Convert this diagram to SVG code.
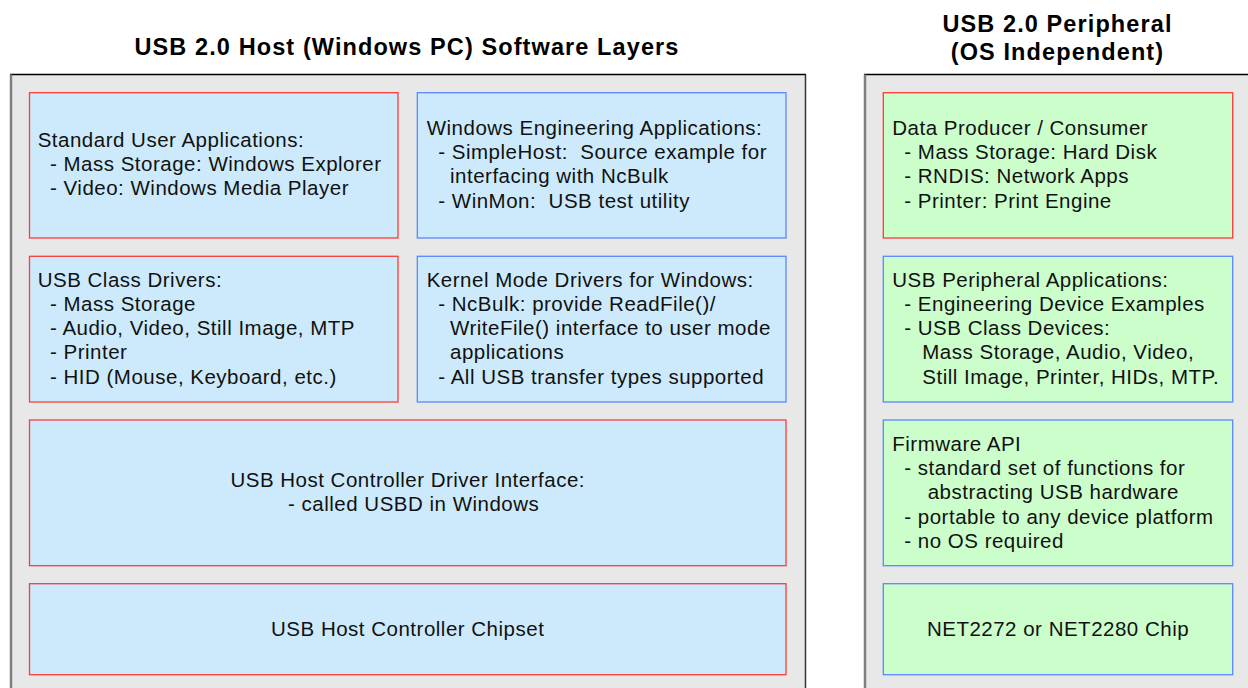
<svg xmlns="http://www.w3.org/2000/svg" width="1248" height="688" viewBox="0 0 1248 688">
<style>
.bg{fill:#ffffff}
.panel{fill:#e8e8e8;stroke:none}
.edgeTop{stroke:#000;stroke-width:1.5}
.edgeSide{stroke:#808080;stroke-width:2.5}
.edgeRight{stroke:#333;stroke-width:1.5}
.hb{fill:#cceafc}
.pb{fill:#ccfecc}
.red{stroke:#ff3a3a;stroke-width:1.3}
.blue{stroke:#5a88ff;stroke-width:1.3}
.t{font-family:"Liberation Sans",Arial,sans-serif;font-size:20.5px;letter-spacing:0.5px;fill:#111}
.c{text-anchor:middle}
.title{font-family:"Liberation Sans",Arial,sans-serif;font-size:23.5px;font-weight:bold;letter-spacing:1.1px;fill:#000;text-anchor:middle}
</style>
<rect class="bg" x="0" y="0" width="1248" height="688"/>
<g id="host-panel">
<rect class="panel" x="10" y="74.5" width="795.5" height="620"/>
<line class="edgeTop" x1="10" y1="74.5" x2="806" y2="74.5"/>
<line class="edgeSide" x1="11" y1="74.5" x2="11" y2="688"/>
<line class="edgeRight" x1="805.5" y1="74.5" x2="805.5" y2="688"/>
<text class="title" x="407" y="55">USB 2.0 Host (Windows PC) Software Layers</text>
</g>
<g id="peripheral-panel">
<rect class="panel" x="864" y="74.5" width="400" height="620"/>
<line class="edgeTop" x1="864" y1="74.5" x2="1248" y2="74.5"/>
<line class="edgeSide" x1="865" y1="74.5" x2="865" y2="688"/>
<text class="title" x="1057.5" y="31.7">USB 2.0 Peripheral</text>
<text class="title" x="1057.5" y="60">(OS Independent)</text>
</g>
<g id="std-user-apps">
<rect class="hb red" x="29.5" y="92.7" width="368.5" height="145.3"/>
<text class="t"><tspan x="37.7" y="147.3">Standard User Applications:</tspan><tspan x="50" y="171.3">- Mass Storage: Windows Explorer</tspan><tspan x="50" y="195.3">- Video: Windows Media Player</tspan></text>
</g>
<g id="win-eng-apps">
<rect class="hb blue" x="417.3" y="92.7" width="368.7" height="145.3"/>
<text class="t"><tspan x="426.7" y="135">Windows Engineering Applications:</tspan><tspan x="438.3" y="159.2" xml:space="preserve">- SimpleHost:  Source example for</tspan><tspan x="450" y="183.4">interfacing with NcBulk</tspan><tspan x="438.3" y="207.6" xml:space="preserve">- WinMon:  USB test utility</tspan></text>
</g>
<g id="usb-class-drivers">
<rect class="hb red" x="29.5" y="256.3" width="368.5" height="145.7"/>
<text class="t"><tspan x="37.7" y="286.7">USB Class Drivers:</tspan><tspan x="50" y="310.9">- Mass Storage</tspan><tspan x="50" y="335.1">- Audio, Video, Still Image, MTP</tspan><tspan x="50" y="359.3">- Printer</tspan><tspan x="50" y="383.5">- HID (Mouse, Keyboard, etc.)</tspan></text>
</g>
<g id="kernel-drivers">
<rect class="hb blue" x="417.3" y="256.3" width="368.7" height="145.7"/>
<text class="t"><tspan x="426.7" y="286.7">Kernel Mode Drivers for Windows:</tspan><tspan x="438.3" y="310.9">- NcBulk: provide ReadFile()/</tspan><tspan x="450" y="335.1">WriteFile() interface to user mode</tspan><tspan x="450" y="359.3">applications</tspan><tspan x="438.3" y="383.5">- All USB transfer types supported</tspan></text>
</g>
<g id="hcd-interface">
<rect class="hb red" x="29.5" y="420" width="756.5" height="145.7"/>
<text class="t c"><tspan x="407.7" y="487.3">USB Host Controller Driver Interface:</tspan><tspan x="413.7" y="511">- called USBD in Windows</tspan></text>
</g>
<g id="hc-chipset">
<rect class="hb red" x="29.5" y="583.7" width="756.5" height="91"/>
<text class="t c" x="407.7" y="636">USB Host Controller Chipset</text>
</g>
<g id="data-producer">
<rect class="pb red" x="883.3" y="92.7" width="349.4" height="145.3"/>
<text class="t"><tspan x="892.3" y="135">Data Producer / Consumer</tspan><tspan x="904.3" y="159.2">- Mass Storage: Hard Disk</tspan><tspan x="904.3" y="183.4">- RNDIS: Network Apps</tspan><tspan x="904.3" y="207.6">- Printer: Print Engine</tspan></text>
</g>
<g id="periph-apps">
<rect class="pb blue" x="883.3" y="256.3" width="349.4" height="145.7"/>
<text class="t"><tspan x="892.3" y="286.7">USB Peripheral Applications:</tspan><tspan x="904.3" y="310.9">- Engineering Device Examples</tspan><tspan x="904.3" y="335.1">- USB Class Devices:</tspan><tspan x="922.3" y="359.3">Mass Storage, Audio, Video,</tspan><tspan x="922.3" y="383.5">Still Image, Printer, HIDs, MTP.</tspan></text>
</g>
<g id="firmware-api">
<rect class="pb blue" x="883.3" y="420" width="349.4" height="145.7"/>
<text class="t"><tspan x="892.3" y="451">Firmware API</tspan><tspan x="904.3" y="475.2">- standard set of functions for</tspan><tspan x="927.7" y="499.4">abstracting USB hardware</tspan><tspan x="904.3" y="523.6">- portable to any device platform</tspan><tspan x="904.3" y="547.8">- no OS required</tspan></text>
</g>
<g id="net-chip">
<rect class="pb blue" x="883.3" y="583.7" width="349.4" height="91"/>
<text class="t c" x="1058" y="635.5">NET2272 or NET2280 Chip</text>
</g>
<g id="connectors"></g>
</svg>
